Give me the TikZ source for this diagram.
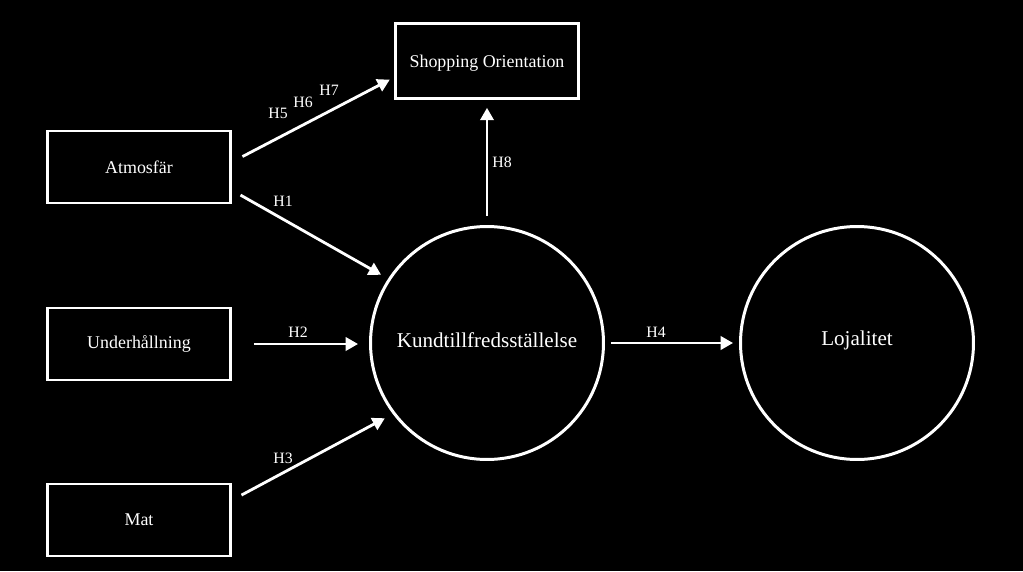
\documentclass[tikz,border=0pt]{standalone}
\usepackage{fontspec}
\setmainfont{Liberation Serif}
\usetikzlibrary{arrows.meta}

\begin{document}
\begin{tikzpicture}[
  x=0.02cm, y=-0.02cm,
  every node/.style={text=white},
  factor/.style={draw=white, line width=1.5pt, minimum width=3.66cm, minimum height=1.44cm, font=\fontsize{10.2}{12}\selectfont},
  construct/.style={draw=white, circle, line width=1.7pt, minimum size=4.66cm, inner sep=0pt, font=\fontsize{12}{14}\selectfont},
  hyp/.style={font=\fontsize{9}{11}\selectfont, inner sep=1pt},
  link/.style={draw=white, line width=1.6pt, -{Triangle[length=7pt, width=7.5pt]}}
]
\path[fill=black] (0,0) rectangle (1023,571);

\node[factor] (atm) at (139,167) {Atmosfär};
\node[factor] (und) at (139,344) {Underhållning};
\node[factor] (mat) at (139,520) {Mat};
\node[factor, minimum height=1.5cm, text depth=0pt] (shop) at (487,61) {Shopping Orientation};
\node[construct] (kund) at (487,343) {};
\node[construct] (loj) at (857,343) {};
\node (kundtext) at (487,340) {\fontsize{12}{14}\selectfont Kundtillfredsställelse};
\node (lojtext) at (857,340) {\fontsize{12}{14}\selectfont Lojalitet};

\draw[link, shorten <=12*0.02cm, shorten >=5*0.02cm] (atm.3) -- (shop.190);
\draw[link, shorten <=10*0.02cm, shorten >=8*0.02cm] (atm.-14) -- (kund.147);
\draw[link, shorten <=22*0.02cm, shorten >=11*0.02cm] (und.east) -- (und.east -| kund.west);
\draw[link, shorten <=11*0.02cm, shorten >=9*0.02cm] (mat.12) -- (kund.217);
\draw[link, shorten <=6*0.02cm, shorten >=6*0.02cm] (kund.east) -- (loj.west);
\draw[link, shorten <=9*0.02cm, shorten >=8*0.02cm] (kund.north) -- (shop.south);

\node[hyp] (h5) at (278,113) {H5};
\node[hyp] (h6) at (303,102) {H6};
\node[hyp] (h7) at (329,90) {H7};
\node[hyp] (h1) at (283,201) {H1};
\node[hyp] (h2) at (298,332) {H2};
\node[hyp] (h3) at (283,458) {H3};
\node[hyp] (h4) at (656,332) {H4};
\node[hyp] (h8) at (502,162) {H8};
\end{tikzpicture}
\end{document}
